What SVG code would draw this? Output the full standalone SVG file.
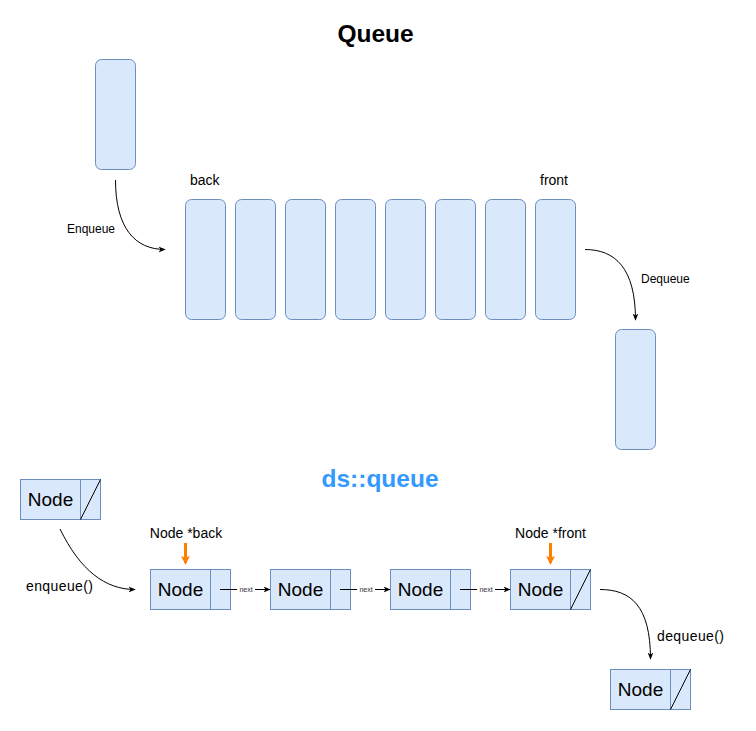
<svg xmlns="http://www.w3.org/2000/svg" width="756" height="731" viewBox="0 0 756 731">
<style>
.cell{fill:#dae8fc;stroke:#6c8ebf;stroke-width:1}
.ln{fill:none;stroke:#000;stroke-width:1}
.sep{stroke:#6c8ebf;stroke-width:1}
.t{font-family:"Liberation Sans",Arial,sans-serif;fill:#000}
.lbl{font-size:12px}
.lbl13{font-size:14px}
.node{font-size:19px;text-anchor:middle}
.nx{font-size:7px;text-anchor:middle;fill:#333}
.or{stroke:#FF8000;stroke-width:3;fill:none}
</style>
<defs>
<marker id="ah" viewBox="0 0 10 10" refX="9" refY="5" markerWidth="7" markerHeight="7" markerUnits="userSpaceOnUse" orient="auto">
<path d="M0,1 L10,5 L0,9 L2.5,5 Z" fill="#000"/>
</marker>
<marker id="ahs" viewBox="0 0 10 10" refX="9" refY="5" markerWidth="7" markerHeight="7" markerUnits="userSpaceOnUse" orient="auto">
<path d="M0,1 L10,5 L0,9 L2.5,5 Z" fill="#000"/>
</marker>
<marker id="aho" viewBox="0 0 10 10" refX="8" refY="5" markerWidth="3" markerHeight="3" orient="auto">
<path d="M0,0 L10,5 L0,10 L2.5,5 Z" fill="#FF8000"/>
</marker>
</defs>

<text class="t" x="375.5" y="42" font-size="24.5" font-weight="bold" text-anchor="middle">Queue</text>
<text class="t" x="380" y="487" font-size="24.5" font-weight="bold" text-anchor="middle" style="fill:#3399FF">ds::queue</text>

<g id="incoming"><rect class="cell" x="95.5" y="59.5" width="40" height="110" rx="6"/></g>
<g id="queue-cells">
<rect class="cell" x="185.5" y="199.5" width="40" height="120" rx="6"/>
<rect class="cell" x="235.5" y="199.5" width="40" height="120" rx="6"/>
<rect class="cell" x="285.5" y="199.5" width="40" height="120" rx="6"/>
<rect class="cell" x="335.5" y="199.5" width="40" height="120" rx="6"/>
<rect class="cell" x="385.5" y="199.5" width="40" height="120" rx="6"/>
<rect class="cell" x="435.5" y="199.5" width="40" height="120" rx="6"/>
<rect class="cell" x="485.5" y="199.5" width="40" height="120" rx="6"/>
<rect class="cell" x="535.5" y="199.5" width="40" height="120" rx="6"/>
</g>
<g id="outgoing"><rect class="cell" x="615.5" y="329.5" width="40" height="120" rx="6"/></g>
<text class="t lbl13" x="190" y="185">back</text>
<text class="t lbl13" x="540" y="185">front</text>

<g id="ll-new"><rect class="cell" x="20.5" y="479.5" width="80" height="40"/><line class="sep" x1="80.5" y1="479.5" x2="80.5" y2="519.5"/><line class="ln" x1="100.5" y1="479.5" x2="80.5" y2="519.5"/><text class="t node" x="50.5" y="506">Node</text></g>
<g id="ll-n1"><rect class="cell" x="150.5" y="569.5" width="80" height="40"/><line class="sep" x1="210.5" y1="569.5" x2="210.5" y2="609.5"/><text class="t node" x="180.5" y="596">Node</text></g>
<g id="ll-n2"><rect class="cell" x="270.5" y="569.5" width="80" height="40"/><line class="sep" x1="330.5" y1="569.5" x2="330.5" y2="609.5"/><text class="t node" x="300.5" y="596">Node</text></g>
<g id="ll-n3"><rect class="cell" x="390.5" y="569.5" width="80" height="40"/><line class="sep" x1="450.5" y1="569.5" x2="450.5" y2="609.5"/><text class="t node" x="420.5" y="596">Node</text></g>
<g id="ll-n4"><rect class="cell" x="510.5" y="569.5" width="80" height="40"/><line class="sep" x1="570.5" y1="569.5" x2="570.5" y2="609.5"/><line class="ln" x1="590.5" y1="569.5" x2="570.5" y2="609.5"/><text class="t node" x="540.5" y="596">Node</text></g>
<g id="ll-out"><rect class="cell" x="610.5" y="669.5" width="80" height="40"/><line class="sep" x1="670.5" y1="669.5" x2="670.5" y2="709.5"/><line class="ln" x1="690.5" y1="669.5" x2="670.5" y2="709.5"/><text class="t node" x="640.5" y="696">Node</text></g>

<text class="t lbl13" x="186" y="538" text-anchor="middle">Node *back</text>
<text class="t lbl13" x="550.5" y="538" text-anchor="middle">Node *front</text>

<g id="connectors">
<path class="ln" d="M115.5,180 C115.5,228 135,249.5 165,249.5" marker-end="url(#ah)"/>
<path class="ln" d="M585,249.5 C615,249.5 635.5,268 635.5,320" marker-end="url(#ah)"/>
<path class="ln" d="M60,529 C80,570 105,589.5 135,589.5" marker-end="url(#ah)"/>
<path class="ln" d="M600,589.5 C630,589.5 650.5,605 650.5,659" marker-end="url(#ah)"/>
<line class="ln" x1="220" y1="589.5" x2="270" y2="589.5" marker-end="url(#ahs)"/>
<line class="ln" x1="340" y1="589.5" x2="390" y2="589.5" marker-end="url(#ahs)"/>
<line class="ln" x1="460" y1="589.5" x2="510" y2="589.5" marker-end="url(#ahs)"/>
<rect x="237" y="585" width="18" height="8" fill="#fff"/>
<rect x="357" y="585" width="18" height="8" fill="#fff"/>
<rect x="477" y="585" width="18" height="8" fill="#fff"/>
<text class="t nx" x="246" y="592">next</text>
<text class="t nx" x="366" y="592">next</text>
<text class="t nx" x="486" y="592">next</text>
<line class="or" x1="185.5" y1="543" x2="185.5" y2="563" marker-end="url(#aho)"/>
<line class="or" x1="550.5" y1="543" x2="550.5" y2="563" marker-end="url(#aho)"/>
</g>

<text class="t lbl" x="67" y="233">Enqueue</text>
<text class="t lbl" x="641" y="283">Dequeue</text>
<text class="t lbl13" x="26" y="591" textLength="67">enqueue()</text>
<text class="t lbl13" x="657" y="641" textLength="67">dequeue()</text>
</svg>
